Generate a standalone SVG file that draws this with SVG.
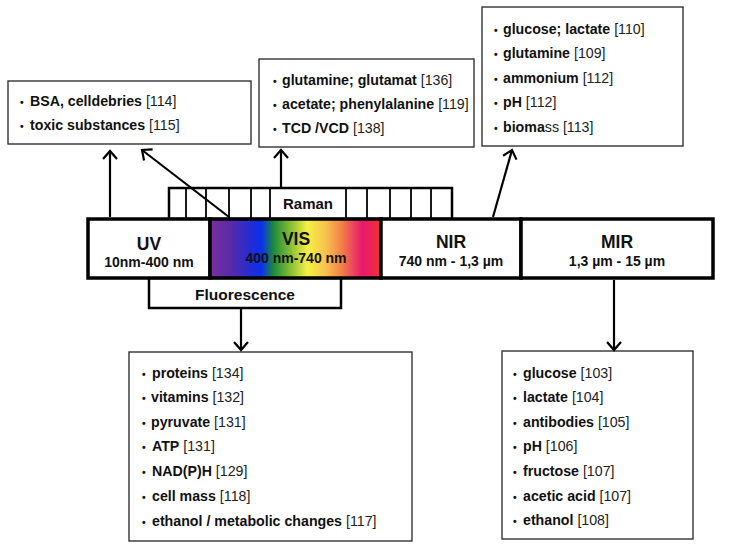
<svg xmlns="http://www.w3.org/2000/svg" width="731" height="549" viewBox="0 0 731 549">
<style>
text{font-family:"Liberation Sans",Arial,sans-serif;fill:#111}
.lst{font-size:14.2px}
.b{font-weight:bold}
.r{font-weight:normal;fill:#222}
.dot{font-size:10.5px;font-weight:bold}
.box{fill:#fff;stroke:#333;stroke-width:1.4}
.bar{fill:#fff;stroke:#000;stroke-width:3.5}
.sub{fill:#fff;stroke:#000;stroke-width:2.5}
.tick{stroke:#000;stroke-width:1.8}
.big{font-size:17.5px;font-weight:bold;text-anchor:middle}
.rng{font-size:14px;font-weight:bold;text-anchor:middle}
.lab{font-size:15px;font-weight:bold;text-anchor:middle}
.arr{stroke:#000;stroke-width:2.2;fill:none;marker-end:url(#ah)}
</style>
<defs>
<marker id="ah" markerUnits="userSpaceOnUse" viewBox="-12 -10 14 20" refX="0" refY="0" markerWidth="14" markerHeight="20" orient="auto">
<path d="M-8,-7 L0,0 L-8,7" fill="none" stroke="#000" stroke-width="2.2"/>
</marker>
<linearGradient id="vis" x1="0" y1="0" x2="1" y2="0">
<stop offset="0" stop-color="#7a2e9e"/>
<stop offset="0.12" stop-color="#5a2aaa"/>
<stop offset="0.22" stop-color="#2a2ccc"/>
<stop offset="0.3" stop-color="#0a30ee"/>
<stop offset="0.37" stop-color="#1a8a3a"/>
<stop offset="0.46" stop-color="#7cb832"/>
<stop offset="0.57" stop-color="#f6f044"/>
<stop offset="0.68" stop-color="#f8c04e"/>
<stop offset="0.78" stop-color="#f27848"/>
<stop offset="0.89" stop-color="#e8186e"/>
<stop offset="1" stop-color="#f03232"/>
</linearGradient>
</defs>

<g id="raman">
<rect class="sub" x="169" y="188" width="283" height="31"/>
<g class="tick">
<line x1="186" y1="188" x2="186" y2="219"/>
<line x1="206" y1="188" x2="206" y2="219"/>
<line x1="229" y1="188" x2="229" y2="219"/>
<line x1="251" y1="188" x2="251" y2="219"/>
<line x1="270" y1="188" x2="270" y2="219"/>
<line x1="346" y1="188" x2="346" y2="219"/>
<line x1="367" y1="188" x2="367" y2="219"/>
<line x1="390" y1="188" x2="390" y2="219"/>
<line x1="411" y1="188" x2="411" y2="219"/>
<line x1="431" y1="188" x2="431" y2="219"/>
</g>
<text class="lab" x="308" y="209">Raman</text>
</g>

<g id="fluorescence">
<rect class="sub" x="149" y="278" width="192" height="30"/>
<text class="lab" x="245" y="300" style="font-size:15.5px">Fluorescence</text>
</g>

<g id="uv">
<rect class="bar" x="88" y="219" width="122" height="59"/>
<text class="big" x="149" y="250">UV</text>
<text class="rng" x="149" y="267">10nm-400 nm</text>
</g>
<g id="vis">
<rect x="210" y="219" width="171" height="59" fill="url(#vis)" stroke="#000" stroke-width="3.5"/>
<text class="big" x="296" y="245">VIS</text>
<text class="rng" x="296" y="263">400 nm-740 nm</text>
</g>
<g id="nir">
<rect class="bar" x="381" y="219" width="140" height="59"/>
<text class="big" x="451" y="248">NIR</text>
<text class="rng" x="451" y="266">740 nm - 1,3 µm</text>
</g>
<g id="mir">
<rect class="bar" x="521" y="219" width="192" height="59"/>
<text class="big" x="617" y="248">MIR</text>
<text class="rng" x="617" y="266">1,3 µm - 15 µm</text>
</g>

<g id="box-uv">
<rect class="box" x="8" y="81" width="243" height="63"/>
<text class="lst" x="20" y="106"><tspan class="dot">•</tspan><tspan class="b" x="30">BSA, celldebries</tspan><tspan class="r"> [114]</tspan></text>
<text class="lst" x="20" y="130"><tspan class="dot">•</tspan><tspan class="b" x="30">toxic substances</tspan><tspan class="r"> [115]</tspan></text>
</g>

<g id="box-raman">
<rect class="box" x="259" y="59" width="215" height="88"/>
<text class="lst" x="273" y="85"><tspan class="dot">•</tspan><tspan class="b" x="282">glutamine; glutamat</tspan><tspan class="r"> [136]</tspan></text>
<text class="lst" x="273" y="109"><tspan class="dot">•</tspan><tspan class="b" x="282">acetate; phenylalanine</tspan><tspan class="r"> [119]</tspan></text>
<text class="lst" x="273" y="133"><tspan class="dot">•</tspan><tspan class="b" x="282">TCD /VCD</tspan><tspan class="r"> [138]</tspan></text>
</g>

<g id="box-nir">
<rect class="box" x="482" y="7" width="201" height="139"/>
<text class="lst" x="494" y="34"><tspan class="dot">•</tspan><tspan class="b" x="503">glucose; lactate</tspan><tspan class="r"> [110]</tspan></text>
<text class="lst" x="494" y="58"><tspan class="dot">•</tspan><tspan class="b" x="503">glutamine </tspan><tspan class="r"> [109]</tspan></text>
<text class="lst" x="494" y="83"><tspan class="dot">•</tspan><tspan class="b" x="503">ammonium</tspan><tspan class="r"> [112]</tspan></text>
<text class="lst" x="494" y="107"><tspan class="dot">•</tspan><tspan class="b" x="503">pH</tspan><tspan class="r"> [112]</tspan></text>
<text class="lst" x="494" y="132"><tspan class="dot">•</tspan><tspan class="b" x="503">bioma</tspan><tspan class="r">ss [113]</tspan></text>
</g>

<g id="box-fluorescence">
<rect class="box" x="129" y="352" width="283" height="189"/>
<text class="lst" x="142" y="378"><tspan class="dot">•</tspan><tspan class="b" x="152">proteins</tspan><tspan class="r"> [134]</tspan></text>
<text class="lst" x="142" y="402"><tspan class="dot">•</tspan><tspan class="b" x="151">vitamins</tspan><tspan class="r"> [132]</tspan></text>
<text class="lst" x="142" y="427"><tspan class="dot">•</tspan><tspan class="b" x="151">pyruvate</tspan><tspan class="r"> [131]</tspan></text>
<text class="lst" x="142" y="451"><tspan class="dot">•</tspan><tspan class="b" x="152">ATP</tspan><tspan class="r"> [131]</tspan></text>
<text class="lst" x="142" y="476"><tspan class="dot">•</tspan><tspan class="b" x="152">NAD(P)H</tspan><tspan class="r"> [129]</tspan></text>
<text class="lst" x="142" y="501"><tspan class="dot">•</tspan><tspan class="b" x="152">cell mass</tspan><tspan class="r"> [118]</tspan></text>
<text class="lst" x="142" y="526"><tspan class="dot">•</tspan><tspan class="b" x="152">ethanol / metabolic changes</tspan><tspan class="r"> [117]</tspan></text>
</g>

<g id="box-mir">
<rect class="box" x="502" y="351" width="191" height="188"/>
<text class="lst" x="513" y="378"><tspan class="dot">•</tspan><tspan class="b" x="523">glucose</tspan><tspan class="r"> [103]</tspan></text>
<text class="lst" x="513" y="402"><tspan class="dot">•</tspan><tspan class="b" x="523">lactate</tspan><tspan class="r"> [104]</tspan></text>
<text class="lst" x="513" y="427"><tspan class="dot">•</tspan><tspan class="b" x="523">antibodies</tspan><tspan class="r"> [105]</tspan></text>
<text class="lst" x="513" y="451"><tspan class="dot">•</tspan><tspan class="b" x="523">pH</tspan><tspan class="r"> [106]</tspan></text>
<text class="lst" x="513" y="476"><tspan class="dot">•</tspan><tspan class="b" x="523">fructose</tspan><tspan class="r"> [107]</tspan></text>
<text class="lst" x="513" y="501"><tspan class="dot">•</tspan><tspan class="b" x="523">acetic acid</tspan><tspan class="r"> [107]</tspan></text>
<text class="lst" x="513" y="525"><tspan class="dot">•</tspan><tspan class="b" x="523">ethanol</tspan><tspan class="r"> [108]</tspan></text>
</g>

<g id="connectors">
<line class="arr" x1="110" y1="217" x2="110" y2="151"/>
<line class="arr" x1="229" y1="217" x2="142" y2="150"/>
<line class="arr" x1="281" y1="187" x2="281" y2="150"/>
<line class="arr" x1="493" y1="217" x2="512" y2="150"/>
<line class="arr" x1="241" y1="309" x2="241" y2="350"/>
<line class="arr" x1="614" y1="280" x2="614" y2="350"/>
</g>
</svg>
